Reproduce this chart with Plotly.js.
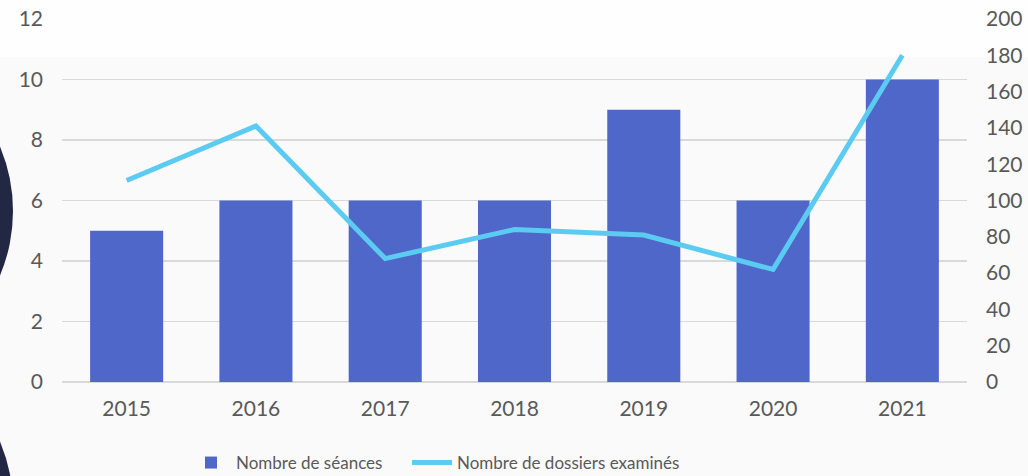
<!DOCTYPE html>
<html>
<head>
<meta charset="utf-8">
<script src="https://cdn.plot.ly/plotly-3.0.1.min.js"></script>
<style>
  html, body { margin: 0; padding: 0; background: #fafafa; }
  #chart { width: 1028px; height: 476px; }
</style>
</head>
<body>
<div id="chart"></div>
<script>
const years = ['2015', '2016', '2017', '2018', '2019', '2020', '2021'];
const seances = [5, 6, 6, 6, 9, 6, 10];
const dossiers = [111, 141, 68, 84, 81, 62, 180];
const seriesNames = ['Nombre de séances', 'Nombre de dossiers examinés'];

const textColor = '#595959';
const gridColor = '#d9d9d9';
const fontFamily = 'Lato, "Open Sans", sans-serif';

// pixel helpers for decorative background shapes (plot area 62..967 x 19..382)
const W = 1028, H = 476;
const L = 62, R = 967, T = 19, B = 382;
const px = v => (v - L) / (R - L);
const py = v => (B - v) / (B - T);

const traces = [
  {
    type: 'bar',
    x: years,
    y: seances,
    name: seriesNames[0],
    marker: { color: '#4f67c8' },
    yaxis: 'y',
    legend: 'legend',
    hoverinfo: 'skip'
  },
  {
    type: 'scatter',
    mode: 'lines',
    x: years,
    y: dossiers,
    name: seriesNames[1],
    line: { color: '#5ccbf1', width: 5 },
    yaxis: 'y2',
    legend: 'legend2',
    hoverinfo: 'skip'
  }
];

const legendBase = {
  orientation: 'h',
  xref: 'container',
  yref: 'container',
  xanchor: 'left',
  y: (H - 463) / H,
  yanchor: 'middle',
  font: { size: 17, color: textColor },
  itemwidth: 40,
  bgcolor: 'rgba(0,0,0,0)'
};

const layout = {
  width: W,
  height: H,
  margin: { l: L, r: W - R, t: T, b: H - B },
  paper_bgcolor: '#fafafa',
  plot_bgcolor: 'rgba(0,0,0,0)',
  font: { family: fontFamily, color: textColor, size: 21 },
  bargap: 0.435,
  showlegend: true,
  legend: Object.assign({}, legendBase, { x: 186 / W }),
  legend2: Object.assign({}, legendBase, { x: 407 / W }),
  xaxis: {
    type: 'category',
    showgrid: false,
    showline: false,
    zeroline: false,
    ticks: '',
    ticklabelstandoff: 12,
    tickfont: { size: 21, color: textColor }
  },
  yaxis: {
    range: [0, 12],
    dtick: 2,
    showgrid: true,
    gridcolor: gridColor,
    gridwidth: 1.5,
    zeroline: true,
    zerolinecolor: gridColor,
    zerolinewidth: 1.5,
    showline: false,
    ticks: '',
    ticklabelstandoff: 18,
    tickfont: { size: 21, color: textColor }
  },
  yaxis2: {
    range: [0, 200],
    dtick: 20,
    overlaying: 'y',
    side: 'right',
    showgrid: false,
    zeroline: false,
    showline: false,
    ticks: '',
    ticklabelstandoff: 18,
    tickfont: { size: 21, color: textColor }
  },
  shapes: [
    { type: 'rect', xref: 'paper', yref: 'paper', layer: 'below',
      x0: px(0), x1: px(W), y0: py(57), y1: py(0),
      fillcolor: '#fefefe', line: { width: 0 } },
    { type: 'circle', xref: 'paper', yref: 'paper', layer: 'below',
      x0: px(-319), x1: px(13), y0: py(377), y1: py(45),
      fillcolor: '#222744', line: { width: 0 } },
    { type: 'circle', xref: 'paper', yref: 'paper', layer: 'below',
      x0: px(-319), x1: px(13), y0: py(672), y1: py(340),
      fillcolor: '#222744', line: { width: 0 } }
  ]
};

Plotly.newPlot('chart', traces, layout, { staticPlot: true, displayModeBar: false });
</script>
</body>
</html>
